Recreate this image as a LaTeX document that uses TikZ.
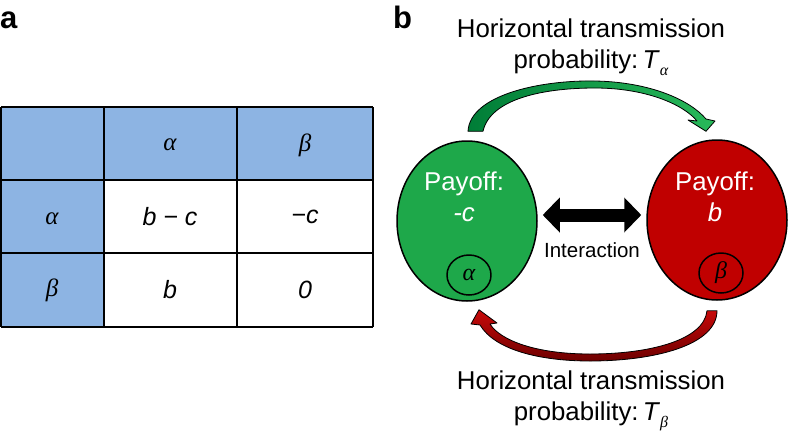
\documentclass[tikz,border=0pt]{standalone}
\usepackage{fontspec}
\setmainfont{Liberation Sans}
\newfontfamily\grk{Liberation Serif}
\usetikzlibrary{shapes.geometric,arrows.meta,calc}
\definecolor{hdrblue}{RGB}{141,180,227}
\definecolor{popgreen}{RGB}{30,168,74}
\definecolor{popred}{RGB}{192,0,0}
\definecolor{gdark}{RGB}{0,125,55}
\definecolor{glight}{RGB}{40,185,90}
\definecolor{rdark}{RGB}{110,0,0}
\definecolor{rlight}{RGB}{200,10,10}
\newcommand{\gal}{{\grk\itshape α}}
\newcommand{\gbe}{{\grk\itshape β}}
\begin{document}
\begin{tikzpicture}[x=1pt,y=-1pt,line join=round,
    lbl/.style={font=\fontsize{31}{31}\selectfont\bfseries,anchor=base west,inner sep=0pt},
    cell/.style={font=\fontsize{25}{30}\selectfont},
    captext/.style={font=\fontsize{25.8}{31}\selectfont,align=center,anchor=base},
    pop/.style={draw,line width=1.5pt,ellipse,minimum width=140pt,minimum height=160pt,inner sep=0pt},
    tag/.style={draw,line width=1.5pt,ellipse,minimum width=44pt,minimum height=40pt,inner sep=0pt,font=\fontsize{24}{24}\selectfont},
    dbl/.style={line width=13pt,{Triangle[length=17pt,width=34pt]}-{Triangle[length=17pt,width=34pt]}}]
\useasboundingbox (0,0) rectangle (788,432);
% panel a: payoff table
\node[lbl] (pa) at (0,28) {a};
\fill[hdrblue] (1,107) rectangle (373,180);
\fill[hdrblue] (1,180) rectangle (104,327);
\foreach \y in {107,180,253,327}
  \draw[line width=1.3pt] (1,\y) -- (373,\y);
\foreach \x in {1,104,237,373}
  \draw[line width=1.3pt] (\x,107) -- (\x,327);
\node[cell] (ha) at (170,145) {\gal};
\node[cell] (hb) at (305,145) {\gbe};
\node[cell] (ra) at (52,219) {\gal};
\node[cell] (rb) at (52,290) {\gbe};
\node[cell] (aa) at (170,217) {\textit{b − c}};
\node[cell] (ab) at (305,217) {\textit{−c}};
\node[cell] (ba) at (170,290) {\textit{b}};
\node[cell] (bb) at (305,290) {\textit{0}};
% panel b: the two populations
\node[lbl] (pb) at (393,28) {b};
\node[pop,fill=popgreen] (green) at (467,221) {};
\node[pop,fill=popred] (red) at (717,220) {};
\node[captext,text=white] (gpay) at (464,221) {Payoff:\\\textit{-c}};
\node[captext,text=white] (rpay) at (715,221) {Payoff:\\\textit{b}};
\node[tag] (galpha) at (469,275) {\gal};
\node[tag] (rbeta) at (721,273) {\gbe};
\draw[dbl,shorten <=5pt,shorten >=5pt] ([yshift=6pt]green.east) -- ([yshift=5pt]red.west);
\node[font=\fontsize{20.5}{20}\selectfont,anchor=base] (inter) at (592,257) {Interaction};
% transmission arrows
\coordinate (gtail) at ([xshift=8pt,yshift=9pt]green.north);
\coordinate (gtip) at ([xshift=-11pt,yshift=8pt]red.north);
\coordinate (rtail) at ([xshift=-5pt,yshift=-10pt]red.south);
\coordinate (rtip) at ([xshift=12pt,yshift=-8pt]green.south);
\path[draw=black,line width=0.8pt,left color=gdark,right color=glight]
  ($(gtail)+(-7,0)$) .. controls (470,95) and (540,80) .. (595,81)
  .. controls (650,82) and (690,100) .. (706,119) -- (715,121) -- (gtip) -- (688,120) -- (697,121)
  .. controls (683,104) and (645,88) .. (595,88)
  .. controls (540,88) and (490,100) .. ($(gtail)+(8,0)$) -- cycle;
\path[draw=black,line width=0.8pt,top color=rlight,bottom color=rdark]
  ($(rtail)+(-5,0)$) .. controls (704,340) and (650,354) .. (590,354)
  .. controls (535,354) and (500,340) .. (490,324) -- (497,323) -- (rtip) -- (471,324) -- (480,325)
  .. controls (495,350) and (540,361) .. (590,361)
  .. controls (655,361) and (717,345) .. ($(rtail)+(5,0)$) -- cycle;
\node[captext] (topcap) at (591,68) {Horizontal transmission\\probability:\,\textit{T}\raisebox{-0.3em}{\fontsize{16}{16}\selectfont\gal}};
\node[captext] (botcap) at (591,420) {Horizontal transmission\\probability:\,\textit{T}\raisebox{-0.3em}{\fontsize{16}{16}\selectfont\gbe}};
\end{tikzpicture}
\end{document}
